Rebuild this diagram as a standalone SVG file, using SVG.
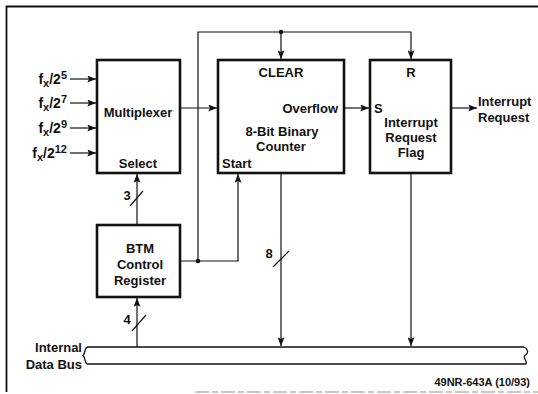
<svg xmlns="http://www.w3.org/2000/svg" width="538" height="394" viewBox="0 0 538 394">
<style>
text{font-family:"Liberation Sans",Arial,sans-serif;font-weight:bold;font-size:13px;fill:#111}
.box{fill:#fff;stroke:#111;stroke-width:2.6}
.ln{fill:none;stroke:#111;stroke-width:1.2}
.c{text-anchor:middle}
.e{text-anchor:end}
.in{font-size:14px}
.sm{font-size:11px}
</style>
<defs>
<marker id="ah" viewBox="0 0 10 8" refX="10" refY="4" markerWidth="9" markerHeight="7" markerUnits="userSpaceOnUse" orient="auto">
<path d="M0,0 L10,4 L0,8 L2,4 Z" fill="#111"/>
</marker>
</defs>
<rect width="538" height="394" fill="#fff"/>
<g id="frame">
<path d="M538,6.5 H6.5 V392" fill="none" stroke="#111" stroke-width="1.8"/>
<path d="M195,392 H538" fill="none" stroke="#777" stroke-width="0.8" stroke-dasharray="14,3,6,3"/>
</g>
<g id="connectors">
<path class="ln" d="M70,79 H96" marker-end="url(#ah)"/>
<path class="ln" d="M70,103 H96" marker-end="url(#ah)"/>
<path class="ln" d="M70,128 H96" marker-end="url(#ah)"/>
<path class="ln" d="M70,153 H96" marker-end="url(#ah)"/>
<path class="ln" d="M181,108 H217" marker-end="url(#ah)"/>
<path class="ln" d="M345,108 H369" marker-end="url(#ah)"/>
<path class="ln" d="M452,108 H477" marker-end="url(#ah)"/>
<path class="ln" d="M198,261 V32 H411 V59" marker-end="url(#ah)"/>
<path class="ln" d="M281,32 V59" marker-end="url(#ah)"/>
<circle cx="281" cy="32" r="2.3" fill="#111"/>
<path class="ln" d="M181,261 H238 V174" marker-end="url(#ah)"/>
<circle cx="198" cy="261" r="2.3" fill="#111"/>
<path class="ln" d="M137,225 V174" marker-end="url(#ah)"/>
<path class="ln" d="M130,206 L143,191"/>
<text x="127" y="200" class="c">3</text>
<path class="ln" d="M137,347 V298" marker-end="url(#ah)"/>
<path class="ln" d="M132,331 L146,315"/>
<text x="127" y="324" class="c">4</text>
<path class="ln" d="M281,174 V346" marker-end="url(#ah)"/>
<path class="ln" d="M273,267 L289,251"/>
<text x="269" y="258" class="c">8</text>
<path class="ln" d="M411,174 V346" marker-end="url(#ah)"/>
</g>
<g id="inputs">
<text x="67" y="84" class="e in">f<tspan class="sm" dy="3">x</tspan><tspan dy="-3">/2</tspan><tspan class="sm" dy="-5">5</tspan></text>
<text x="67" y="108" class="e in">f<tspan class="sm" dy="3">x</tspan><tspan dy="-3">/2</tspan><tspan class="sm" dy="-5">7</tspan></text>
<text x="67" y="133" class="e in">f<tspan class="sm" dy="3">x</tspan><tspan dy="-3">/2</tspan><tspan class="sm" dy="-5">9</tspan></text>
<text x="67" y="158" class="e in">f<tspan class="sm" dy="3">x</tspan><tspan dy="-3">/2</tspan><tspan class="sm" dy="-5">12</tspan></text>
</g>
<g id="multiplexer">
<rect class="box" x="97" y="60" width="83" height="113"/>
<text x="138" y="117" class="c">Multiplexer</text>
<text x="138" y="168" class="c">Select</text>
</g>
<g id="counter">
<rect class="box" x="218" y="60" width="126" height="113"/>
<text x="281" y="77" class="c">CLEAR</text>
<text x="338" y="113" class="e">Overflow</text>
<text x="282" y="136" class="c">8-Bit Binary</text>
<text x="281" y="151" class="c">Counter</text>
<text x="222" y="168">Start</text>
</g>
<g id="flag">
<rect class="box" x="370" y="60" width="81" height="113"/>
<text x="411" y="77" class="c">R</text>
<text x="374" y="113">S</text>
<text x="411" y="127" class="c">Interrupt</text>
<text x="411" y="142" class="c">Request</text>
<text x="411" y="157" class="c">Flag</text>
</g>
<g id="output">
<text x="478" y="106">Interrupt</text>
<text x="478" y="122">Request</text>
</g>
<g id="btm">
<rect class="box" x="97" y="225" width="83" height="72"/>
<text x="140" y="253" class="c">BTM</text>
<text x="140" y="269" class="c">Control</text>
<text x="140" y="285" class="c">Register</text>
</g>
<g id="bus">
<path d="M88,347 H524 C528,349 529,353 525,355.5 C522,358 528,361 526,364 H88 C84,364 86,358 83,355.5 C86,353 84,347 88,347 Z" fill="#fff" stroke="#111" stroke-width="1.3"/>
<text x="82" y="352" class="e">Internal</text>
<text x="82" y="369" class="e">Data Bus</text>
</g>
<text x="530" y="386" class="e" style="font-size:11px">49NR-643A (10/93)</text>
</svg>
